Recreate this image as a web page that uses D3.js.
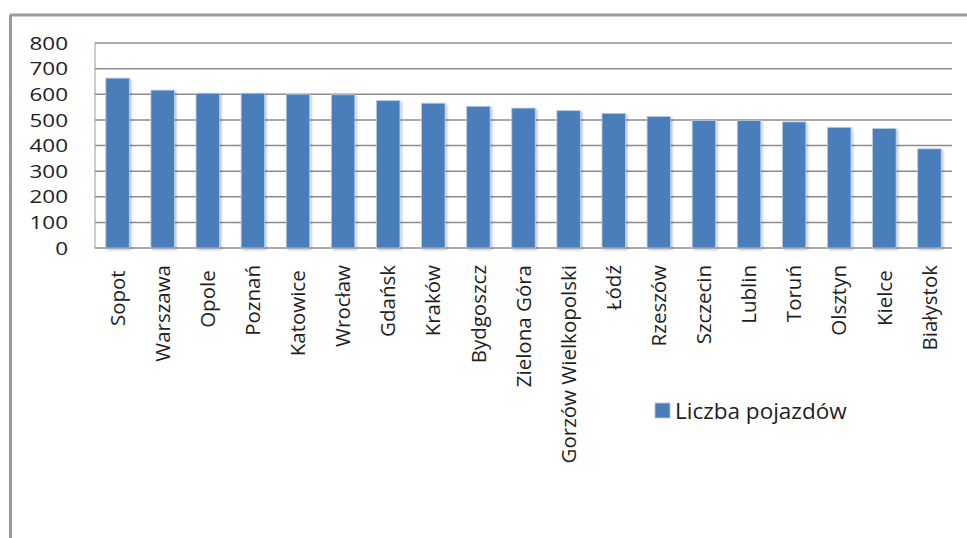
<!DOCTYPE html>
<html>
<head>
<meta charset="utf-8">
<script src="https://cdn.jsdelivr.net/npm/d3@7/dist/d3.min.js"></script>
<style>
  html, body { margin: 0; padding: 0; background: #fff; }
  svg { display: block; }
  text { font-family: "Open Sans", "DejaVu Sans", sans-serif; }
</style>
</head>
<body>
<svg id="chart" width="967" height="538"></svg>
<script>
// Number of vehicles per city (source spreadsheet labels kept as they were, incl. trailing spaces)
const cities = [
  "Sopot ", "Warszawa", "Opole ", "Poznań", "Katowice ", "Wrocław", "Gdańsk",
  "Kraków", "Bydgoszcz", "Zielona Góra", "Gorzów Wielkopolski", "Łódź",
  "Rzeszów", "Szczecin", "Lublin", "Toruń", "Olsztyn", "Kielce ", "Białystok"
];
const vehicles = [
  663, 616, 604, 604, 600, 598, 575,
  565, 553, 546, 536, 525,
  513, 497, 497, 492, 471, 466, 387
];
const yTicks = [0, 100, 200, 300, 400, 500, 600, 700, 800];
const seriesName = "Liczba pojazdów";

const svg = d3.select("#chart");
const barColor = "#4a7ebb";

// Plot area
const plotLeft = 95, plotRight = 952, plotTop = 43, plotBottom = 248;

const x = d3.scaleBand()
  .domain(cities)
  .range([plotLeft, plotRight])
  .paddingInner(0.48)
  .paddingOuter(0.24);

const y = d3.scaleLinear()
  .domain([0, 800])
  .range([plotBottom, plotTop]);

// Soft shadow behind the columns
const defs = svg.append("defs");
const f = defs.append("filter").attr("id", "shadow")
  .attr("x", "-30%").attr("y", "-10%").attr("width", "160%").attr("height", "130%");
f.append("feDropShadow")
  .attr("dx", 1.5).attr("dy", 1.5).attr("stdDeviation", 1.2)
  .attr("flood-color", "#000").attr("flood-opacity", 0.25);

// Outer frame (top and left edges)
svg.append("line").attr("x1", 10).attr("x2", 967).attr("y1", 15).attr("y2", 15)
  .attr("stroke", "#9a9a9a").attr("stroke-width", 3);
svg.append("line").attr("x1", 10.5).attr("x2", 10.5).attr("y1", 15).attr("y2", 538)
  .attr("stroke", "#9a9a9a").attr("stroke-width", 3);

// Horizontal gridlines
svg.append("g")
  .selectAll("line")
  .data(yTicks.filter(d => d > 0))
  .join("line")
  .attr("x1", plotLeft).attr("x2", plotRight)
  .attr("y1", d => y(d)).attr("y2", d => y(d))
  .attr("stroke", "#8c8c8c").attr("stroke-width", 1.5);

// Plot-area left edge and category axis
svg.append("line").attr("x1", plotLeft).attr("x2", plotLeft).attr("y1", plotTop).attr("y2", plotBottom)
  .attr("stroke", "#9a9a9a").attr("stroke-width", 1);
svg.append("line").attr("x1", plotLeft).attr("x2", plotRight).attr("y1", plotBottom).attr("y2", plotBottom)
  .attr("stroke", "#8c8c8c").attr("stroke-width", 1.5);

// Columns
svg.append("g")
  .selectAll("rect")
  .data(cities.map((c, i) => ({ c, v: vehicles[i] })))
  .join("rect")
  .attr("x", d => x(d.c))
  .attr("width", x.bandwidth())
  .attr("y", d => y(d.v))
  .attr("height", d => y(0) - y(d.v))
  .attr("fill", barColor)
  .attr("stroke", "#b9cbe4")
  .attr("stroke-width", 0.8)
  .attr("filter", "url(#shadow)");

// Value axis labels
const ySize = 18.7;
svg.append("g")
  .selectAll("text")
  .data(yTicks)
  .join("text")
  .attr("transform", d => `translate(68,${y(d) + ySize * 0.357}) scale(1.2,1)`)
  .attr("text-anchor", "end")
  .attr("font-size", ySize)
  .attr("fill", "#222")
  .text(d => d);

// Category labels, rotated
svg.append("g")
  .selectAll("text")
  .data(cities)
  .join("text")
  .attr("transform", d => `translate(${x(d) + x.bandwidth() / 2},265) rotate(-90)`)
  .attr("text-anchor", "end")
  .attr("dy", "0.35em")
  .attr("font-size", 20.5)
  .attr("fill", "#1e1e1e")
  .style("white-space", "pre")
  .text(d => d);

// Legend
const legend = svg.append("g").attr("transform", "translate(655,403)");
legend.append("rect").attr("width", 15).attr("height", 15)
  .attr("fill", barColor).attr("stroke", "#b9cbe4").attr("stroke-width", 0.8);
legend.append("text")
  .attr("x", 20).attr("y", 15.5)
  .attr("font-size", 22.5)
  .attr("fill", "#1e1e1e")
  .text(seriesName);
</script>
</body>
</html>
